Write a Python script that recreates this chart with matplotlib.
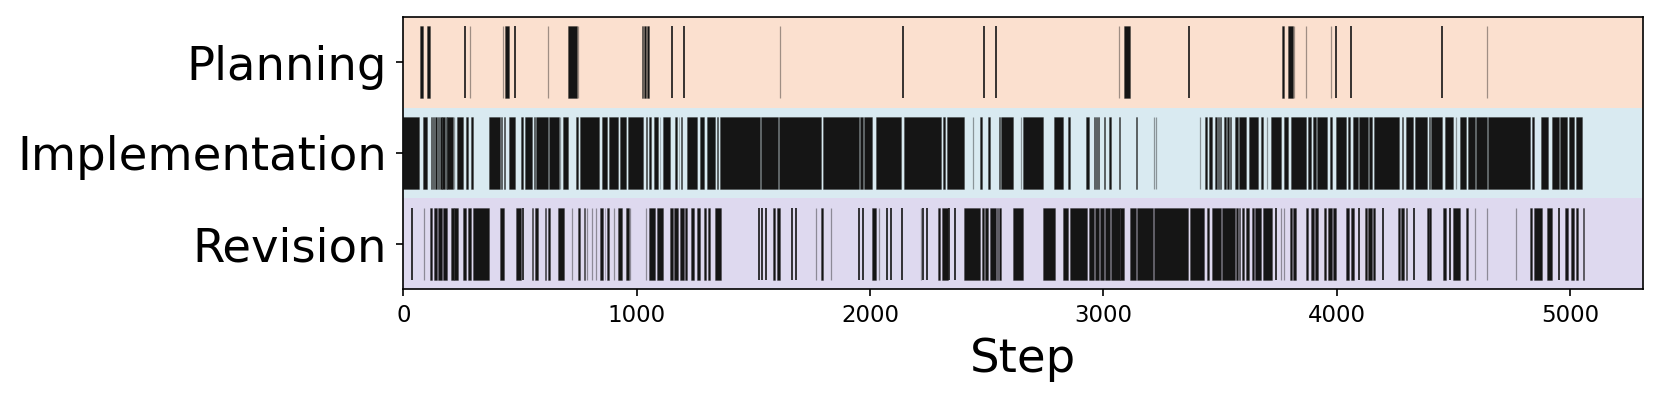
import matplotlib
matplotlib.use('Agg')
from matplotlib import pyplot as plt

labels = ['Planning', 'Implementation', 'Revision']
colors = ['#fbe0cf', '#d9eaf1', '#ded9ef']

plan_starts = [70, 103, 434, 707, 1021, 1033, 1043, 3087, 3764, 3790]
plan_ends = [86, 114, 454, 743, 1029, 1039, 1051, 3114, 3774, 3812]
plan_thin = [266, 480, 1151, 1201, 2142, 2489, 2540, 3367, 3996, 4060, 4453]
plan_faint = [287, 426, 621, 747, 1614, 3069, 3816, 3869, 3976, 4646]

impl_starts = [0, 86, 117, 126, 136, 147, 156, 167, 183, 189, 231, 269, 290, 366, 420, 430, 454, 503, 521, 560, 570,
               626, 686, 740, 757, 851, 881, 929, 963, 1041, 1054, 1076, 1099, 1111, 1166, 1180, 1189, 1214, 1271,
               1300, 1344, 1359, 1531, 1610, 1799, 1957, 1974, 2027, 2147, 2312, 2332, 2472, 2504, 2552, 2562, 2656,
               2789, 2849, 2924, 2959, 2969, 2976, 3001, 3024, 3068, 3142, 3434, 3454, 3480, 3490, 3499, 3519, 3530,
               3541, 3564, 3583, 3624, 3676, 3719, 3776, 3803, 3877, 3900, 3916, 3973, 3999, 4049, 4070, 4096, 4140,
               4160, 4280, 4299, 4336, 4395, 4404, 4463, 4530, 4562, 4597, 4649, 4837, 4876, 4922, 4957, 4997, 5024]
impl_ends = [69, 103, 121, 131, 143, 153, 164, 179, 186, 214, 254, 276, 299, 413, 424, 434, 477, 511, 551, 564, 619,
             667, 707, 750, 839, 874, 921, 954, 1029, 1046, 1060, 1093, 1101, 1144, 1171, 1183, 1196, 1257, 1290,
             1336, 1350, 1527, 1605, 1789, 1954, 1972, 2009, 2134, 2304, 2320, 2404, 2482, 2516, 2557, 2614, 2742,
             2826, 2857, 2939, 2965, 2972, 2983, 3007, 3032, 3071, 3146, 3444, 3466, 3486, 3496, 3504, 3526, 3537,
             3547, 3576, 3613, 3664, 3684, 3762, 3793, 3869, 3889, 3910, 3960, 3979, 4039, 4056, 4090, 4133, 4150,
             4267, 4286, 4326, 4389, 4398, 4450, 4500, 4553, 4593, 4643, 4829, 4847, 4907, 4953, 4986, 5019, 5053]
impl_thin = []
impl_faint = [219, 671, 2442, 2646, 3216, 3226, 3416, 3703, 4510]

rev_starts = [116, 130, 150, 170, 204, 219, 254, 276, 299, 413, 484, 550, 566, 609, 620, 663, 749, 776, 844, 863, 873,
              921, 956, 1054, 1086, 1144, 1159, 1186, 1207, 1234, 1259, 1289, 1307, 1337, 1586, 1603, 1789, 2007,
              2293, 2309, 2403, 2480, 2494, 2516, 2544, 2554, 2614, 2742, 2826, 2857, 2940, 2964, 2986, 3007, 3033,
              3073, 3114, 3146, 3217, 3373, 3444, 3464, 3509, 3567, 3582, 3593, 3610, 3636, 3650, 3683, 3802, 3814,
              3869, 3890, 3909, 3947, 3962, 3986, 4039, 4063, 4120, 4136, 4156, 4262, 4276, 4297, 4389, 4397, 4457,
              4500, 4553, 4829, 4847, 4903, 4980, 5003, 5024, 5056]
rev_ends = [124, 146, 164, 189, 216, 233, 267, 290, 366, 430, 504, 556, 576, 611, 627, 687, 757, 780, 857, 866, 883,
            936, 967, 1077, 1111, 1156, 1179, 1201, 1214, 1246, 1270, 1299, 1314, 1360, 1593, 1614, 1800, 2027,
            2300, 2334, 2472, 2489, 2504, 2540, 2550, 2562, 2657, 2792, 2847, 2932, 2960, 2983, 3003, 3029, 3072,
            3089, 3140, 3214, 3363, 3433, 3454, 3504, 3564, 3579, 3587, 3604, 3624, 3644, 3676, 3724, 3807, 3827,
            3877, 3902, 3919, 3956, 3979, 3997, 4053, 4073, 4129, 4150, 4164, 4270, 4290, 4302, 4394, 4404, 4469,
            4529, 4562, 4836, 4882, 4922, 4993, 5019, 5036, 5062]
rev_thin = [39, 514, 1524, 1536, 1553, 1667, 1684, 1954, 1970, 2074, 2090, 2136, 2227, 2244, 2340, 2364, 3740, 4096,
            4200, 4330, 4486, 4954]
rev_faint = [87, 723, 786, 810, 826, 901, 971, 1041, 1767, 1832, 2039, 2217, 3762, 3776, 4593, 4643, 4767]

starts = [plan_starts, impl_starts, rev_starts]
ends = [plan_ends, impl_ends, rev_ends]
thin = [plan_thin, impl_thin, rev_thin]
faint = [plan_faint, impl_faint, rev_faint]

fig = plt.figure(figsize=(1660 / 150, 400 / 150), dpi=150)
ax = fig.add_axes([403.3 / 1660, 1 - 289.3 / 400, (1643 - 403.3) / 1660, (289.3 - 16.7) / 400])

for i in range(3):
    y = 2 - i
    ax.axhspan(y - 0.5, y + 0.5, color=colors[i], lw=0)
    spans = [(s, e - s) for s, e in zip(starts[i], ends[i])]
    ax.broken_barh(spans, (y - 0.4, 0.8), facecolors='#151515', edgecolors=(0.08, 0.08, 0.08, 0.3), linewidth=0.4)
    if thin[i]:
        ax.eventplot(thin[i], lineoffsets=y, linelengths=0.8, linewidths=0.8, colors='#151515')
    ax.eventplot(faint[i], lineoffsets=y, linelengths=0.8, linewidths=0.6, colors='#151515', alpha=0.4)

ax.set_xlim(0, 5313)
ax.set_ylim(-0.5, 2.5)
ax.set_yticks([2, 1, 0])
ax.set_yticklabels(labels, fontsize=22.3)
ax.tick_params(axis='y', pad=4.5)
ax.tick_params(axis='x', labelsize=11)
ax.set_xlabel('Step', fontsize=22.3, labelpad=5)

fig.savefig('out.png', dpi=150)
